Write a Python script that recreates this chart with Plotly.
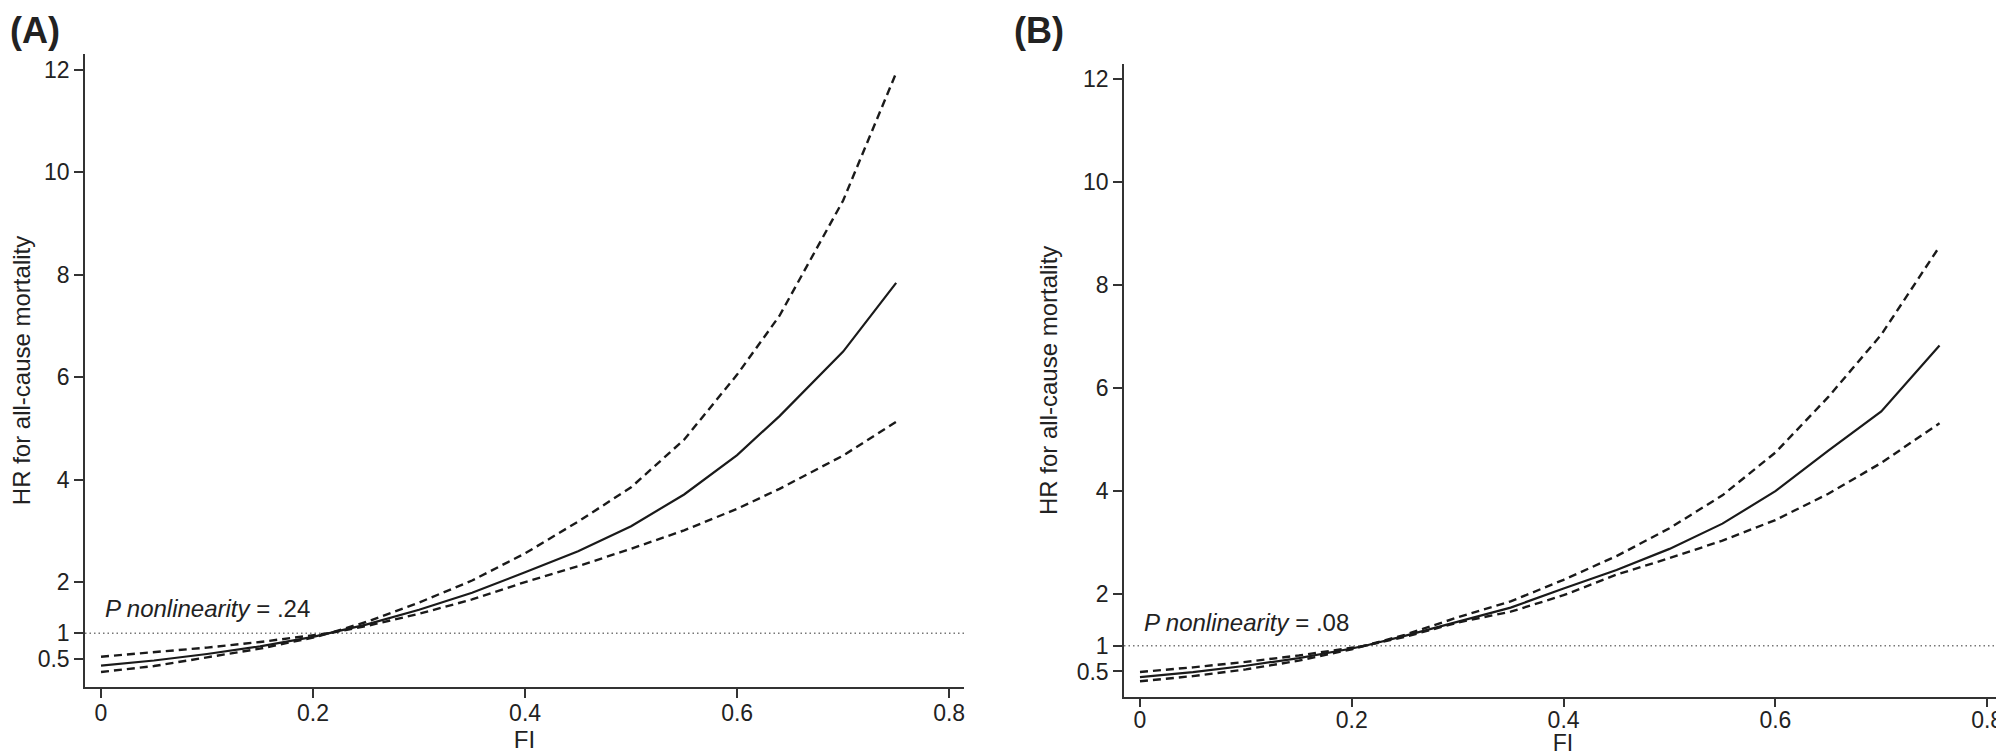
import plotly.graph_objects as go

# ---------------- data ----------------
# Panel A
fi_a = [0, 0.05, 0.10, 0.15, 0.20, 0.215, 0.25, 0.30, 0.35, 0.40, 0.45, 0.50, 0.55, 0.60, 0.64, 0.70, 0.75]
hr_a = [0.367, 0.468, 0.595, 0.744, 0.93, 1.0, 1.17, 1.46, 1.79, 2.19, 2.60, 3.09, 3.71, 4.48, 5.24, 6.50, 7.84]
up_a = [0.543, 0.625, 0.72, 0.83, 0.955, 1.0, 1.22, 1.60, 2.03, 2.56, 3.18, 3.85, 4.78, 6.05, 7.20, 9.45, 11.94]
lo_a = [0.244, 0.36, 0.53, 0.70, 0.916, 1.0, 1.14, 1.38, 1.66, 2.0, 2.31, 2.65, 3.01, 3.43, 3.82, 4.47, 5.13]

# Panel B
fi_b = [0, 0.05, 0.10, 0.15, 0.20, 0.2125, 0.25, 0.30, 0.35, 0.40, 0.45, 0.50, 0.55, 0.60, 0.65, 0.70, 0.755]
hr_b = [0.39, 0.487, 0.61, 0.76, 0.946, 1.0, 1.19, 1.47, 1.74, 2.11, 2.47, 2.88, 3.37, 4.0, 4.79, 5.55, 6.83]
up_b = [0.49, 0.58, 0.686, 0.81, 0.96, 1.0, 1.21, 1.55, 1.86, 2.28, 2.74, 3.28, 3.92, 4.75, 5.83, 7.04, 8.75]
lo_b = [0.31, 0.41, 0.54, 0.71, 0.93, 1.0, 1.17, 1.45, 1.66, 1.98, 2.38, 2.70, 3.04, 3.44, 3.95, 4.55, 5.32]

y_ticks = [0.5, 1, 2, 4, 6, 8, 10, 12]
x_ticks = [0, 0.2, 0.4, 0.6, 0.8]
ref_hr = 1
p_text_a = "<i>P nonlinearity</i> = .24"
p_text_b = "<i>P nonlinearity</i> = .08"
panel_a = "(A)"
panel_b = "(B)"
y_title = "HR for all-cause mortality"
x_title = "FI"

# ---------------- styling ----------------
FONT = "Liberation Sans, Arial, Helvetica, sans-serif"
LINE = "#1a1a1a"
AX = "#333333"

# the page body has an 8px margin: figure pixel (0,0) sits at window pixel (8,8)
OFF = 8
W, H = 2004 - OFF, 756 - OFF

fig = go.Figure()

def add_panel(fi, hr, up, lo, xa, ya):
    dash = dict(color=LINE, width=2.4, dash="8px,5px")
    fig.add_trace(go.Scatter(x=fi, y=up, mode="lines", xaxis=xa, yaxis=ya,
                             line=dash, showlegend=False))
    fig.add_trace(go.Scatter(x=fi, y=hr, mode="lines", xaxis=xa, yaxis=ya,
                             line=dict(color=LINE, width=2.2), showlegend=False))
    fig.add_trace(go.Scatter(x=fi, y=lo, mode="lines", xaxis=xa, yaxis=ya,
                             line=dash, showlegend=False))

add_panel(fi_a, hr_a, up_a, lo_a, "x", "y")
add_panel(fi_b, hr_b, up_b, lo_b, "x2", "y2")

def xaxis_cfg(x0, x1, anchor, lab_shift, title_size):
    return dict(domain=[(x0 - OFF) / W, (x1 - OFF) / W], range=[-0.0151, 0.814], tickvals=x_ticks,
                anchor=anchor,
                showline=True, linecolor=AX, linewidth=1.5, ticks="outside", ticklen=9,
                tickwidth=1.5, tickcolor=AX, showgrid=False, zeroline=False,
                ticklabelstandoff=lab_shift,
                tickfont=dict(family=FONT, size=23, color="#222"),
                title=dict(text=x_title, font=dict(family=FONT, size=title_size, color="#222"), standoff=0))

def yaxis_cfg(top, bottom, r0, r1, anchor):
    return dict(domain=[1 - (bottom - OFF) / H, 1 - (top - OFF) / H], range=[r0, r1], tickvals=y_ticks,
                anchor=anchor,
                showline=True, linecolor=AX, linewidth=1.5, ticks="outside", ticklen=9,
                tickwidth=1.5, tickcolor=AX, showgrid=False, zeroline=False,
                tickfont=dict(family=FONT, size=23, color="#222"),
                title=dict(text=y_title, font=dict(family=FONT, size=24, color="#222"), standoff=12))

fig.update_layout(
    width=W, height=H,
    margin=dict(l=0, r=0, t=0, b=0),
    paper_bgcolor="white", plot_bgcolor="white",
    font=dict(family=FONT, color="#222"),
    xaxis=xaxis_cfg(85, 964, "y", -4, 24),
    yaxis=yaxis_cfg(54, 687, -0.049, 12.31, "x"),
    xaxis2=xaxis_cfg(1124, 2002, "y2", -7, 23),
    yaxis2=yaxis_cfg(64, 696.7, 0.0097, 12.295, "x2"),
)

# reference line at HR = 1
for xr, yr in (("x domain", "y"), ("x2 domain", "y2")):
    fig.add_shape(type="line", xref=xr, yref=yr, x0=0, x1=1, y0=ref_hr, y1=ref_hr,
                  line=dict(color="#777", width=1.5, dash="1.5px,3px"), layer="below")

# P for nonlinearity annotations
fig.add_annotation(x=0.002, y=1.49, xref="x", yref="y", text=p_text_a, showarrow=False,
                   xanchor="left", yanchor="middle", font=dict(family=FONT, size=24, color="#222"))
fig.add_annotation(x=0.002, y=1.46, xref="x2", yref="y2", text=p_text_b, showarrow=False,
                   xanchor="left", yanchor="middle", font=dict(family=FONT, size=24, color="#222"))

# panel letters
fig.add_annotation(x=0, y=1, xref="paper", yref="paper", text="<b>" + panel_a + "</b>",
                   showarrow=False, xanchor="left", yanchor="top",
                   font=dict(family=FONT, size=36, color="#222"))
fig.add_annotation(x=(1012 - OFF) / W, y=1, xref="paper", yref="paper", text="<b>" + panel_b + "</b>",
                   showarrow=False, xanchor="left", yanchor="top",
                   font=dict(family=FONT, size=36, color="#222"))

fig.write_html("out.html")
